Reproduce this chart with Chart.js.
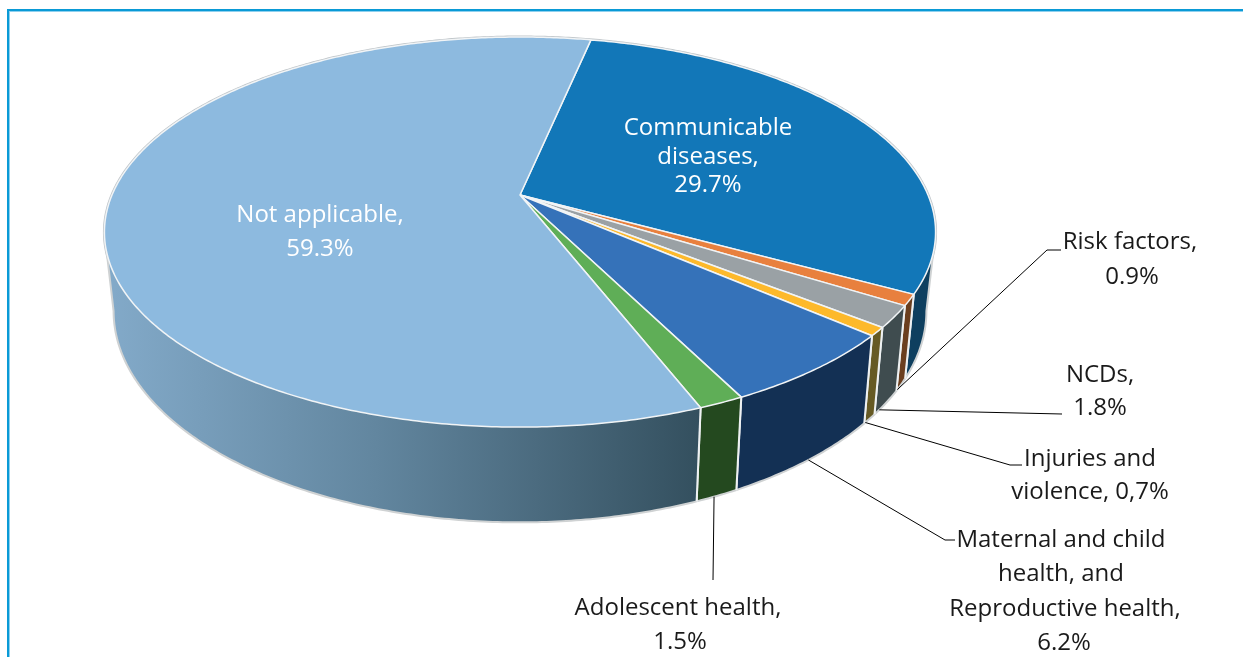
<!DOCTYPE html>
<html><head><meta charset="utf-8">
<style>html,body{margin:0;padding:0;background:#fff}canvas{display:block}</style>
<script src="https://cdn.jsdelivr.net/npm/chart.js@4"></script>
</head><body><canvas id="c" width="1243" height="657"></canvas>
<script>
const categories = ["Communicable diseases","Risk factors","NCDs","Injuries and violence","Maternal and child health, and Reproductive health","Adolescent health","Not applicable"];
const values = [29.7,0.9,1.8,0.7,6.2,1.5,59.3];
const topColors = ["#1277b8","#e8803e","#9aa1a5","#fdb92b","#3572b9","#5fae57","#8dbadf"];
const wallColors = ["#0e3f5f","#6b3f1f","#3f4c4f","#665a24","#133054","#24491f",null];
const labelLines = [
  ["Communicable","diseases,","29.7%"],["Risk factors,","0.9%"],["NCDs,","1.8%"],["Injuries and","violence, 0,7%"],
  ["Maternal and child","health, and","Reproductive health,","6.2%"],["Adolescent health,","1.5%"],["Not applicable,","59.3%"]];
// label layout: centre x per line, centre y per line
const labelX = [[708,708,708],[1130,1132],[1100,1100],[1090,1090],[1061,1061,1065,1064],[678,680],[320,320]];
const labelY = [[128,157,185],[242,277],[375,408],[459,492],[540,574,609,643],[608,642],[215,249]];
const leaderElbows = [null,[[1047,250],[1061,250]],[[1062,414]],[[1010,465],[1022,465]],[[945,540],[955,540]],[[713,580]],null];
const leaderFrac = [0,0.9,0.8,0.9,0.5,0.57,0];
const FONT = '24px "Open Sans"';
// perspective geometry of the disc
const CX=520,AX=195,P=-0.19,TOP={rx:408,ry:188,y:195},BOT={rx:399,ry:203.6,y:271};
const ROTATION=11.9;
const proj=(g,a)=>{const u=Math.cos(a),v=Math.sin(a),w=1+P*v;return [CX+g.rx*u/w,g.y+g.ry*v/w]};
const SIL=Math.asin(-P);             // front silhouette limits
const FR=SIL, FL=Math.PI-SIL;
function arcPath(ctx,g,a0,a1,first){const n=Math.max(2,Math.ceil(Math.abs(a1-a0)/0.01));
  for(let i=0;i<=n;i++){const p=proj(g,a0+(a1-a0)*i/n);(i===0&&first)?ctx.moveTo(p[0],p[1]):ctx.lineTo(p[0],p[1]);}}
const pie3d={id:'pie3d',
  beforeDraw(chart){const c=chart.ctx;c.save();c.fillStyle='#fff';c.fillRect(0,0,1243,657);
    c.fillStyle='#0a9ad6';c.fillRect(7,10,2,647);c.fillRect(7,9,1236,2);
    c.fillStyle='#8fd0ee';c.fillRect(9,11,1,646);c.fillRect(9,11,1234,1);c.restore();},
  beforeDatasetDraw(chart,args){
    const c=chart.ctx,els=chart.getDatasetMeta(args.index).data;
    c.save();c.lineJoin='round';
    // faint outline of the disc
    c.beginPath();arcPath(c,TOP,0,2*Math.PI,true);c.closePath();c.strokeStyle='#bfc5c9';c.lineWidth=3;c.stroke();
    // walls
    els.forEach((el,i)=>{
      for(let k=-1;k<=1;k++){
        const a0=Math.max(el.startAngle+2*Math.PI*k,FR),a1=Math.min(el.endAngle+2*Math.PI*k,FL);
        if(a1<=a0)continue;
        c.beginPath();arcPath(c,TOP,a0,a1,true);arcPath(c,BOT,a1,a0,false);c.closePath();
        if(wallColors[i]){c.fillStyle=wallColors[i];}
        else{const g=c.createLinearGradient(114,0,697,0);g.addColorStop(0,'#82a9c8');g.addColorStop(0.45,'#62869f');g.addColorStop(1,'#34505f');c.fillStyle=g;}
        c.fill();
        c.lineWidth=2;
        // outer rim in soft grey
        c.beginPath();
        const pa=proj(TOP,a1),pb=proj(BOT,a1);
        if(a1>=FL-1e-6){c.moveTo(pa[0],pa[1]);c.lineTo(pb[0],pb[1]);arcPath(c,BOT,a1,a0,false);}
        else arcPath(c,BOT,a1,a0,true);
        if(a0<=FR+1e-6){const q=proj(TOP,a0);c.lineTo(q[0],q[1]);}
        c.strokeStyle='#cfd2d3';c.stroke();
        // white seams between slices
        c.strokeStyle='#eef1f2';
        [a0,a1].forEach(a=>{if(a<=FR+1e-6||a>=FL-1e-6)return;
          const p=proj(TOP,a),q=proj(BOT,a);c.beginPath();c.moveTo(p[0],p[1]);c.lineTo(q[0],q[1]);c.stroke();});
      }
    });
    // top faces
    els.forEach((el,i)=>{
      c.beginPath();c.moveTo(CX,AX);arcPath(c,TOP,el.startAngle,el.endAngle,false);c.closePath();
      c.fillStyle=topColors[i];c.fill();c.strokeStyle='#f1f4f6';c.lineWidth=1.5;c.stroke();
    });
    c.restore();
    return false;
  },
  afterDatasetsDraw(chart){
    const c=chart.ctx,els=chart.getDatasetMeta(0).data;
    c.save();c.strokeStyle='#000';c.lineWidth=1;
    els.forEach((el,i)=>{ if(!leaderElbows[i])return;
      const st=proj(BOT,el.startAngle+(el.endAngle-el.startAngle)*leaderFrac[i]);
      c.beginPath();c.moveTo(st[0],st[1]);leaderElbows[i].forEach(p=>c.lineTo(p[0],p[1]));c.stroke();});
    c.font=FONT;c.textAlign='center';c.textBaseline='middle';
    labelLines.forEach((ls,i)=>{c.fillStyle=(i===0||i===6)?'#fff':'#1a1a1a';
      ls.forEach((t,j)=>c.fillText(t,labelX[i][j],labelY[i][j]));});
    c.restore();
  }};
new Chart(document.getElementById('c'),{type:'pie',
  data:{labels:categories,datasets:[{data:values,backgroundColor:topColors}]},
  options:{responsive:false,animation:false,rotation:ROTATION,
    plugins:{legend:{display:false},tooltip:{enabled:false}}},
  plugins:[pie3d]});
</script></body></html>
